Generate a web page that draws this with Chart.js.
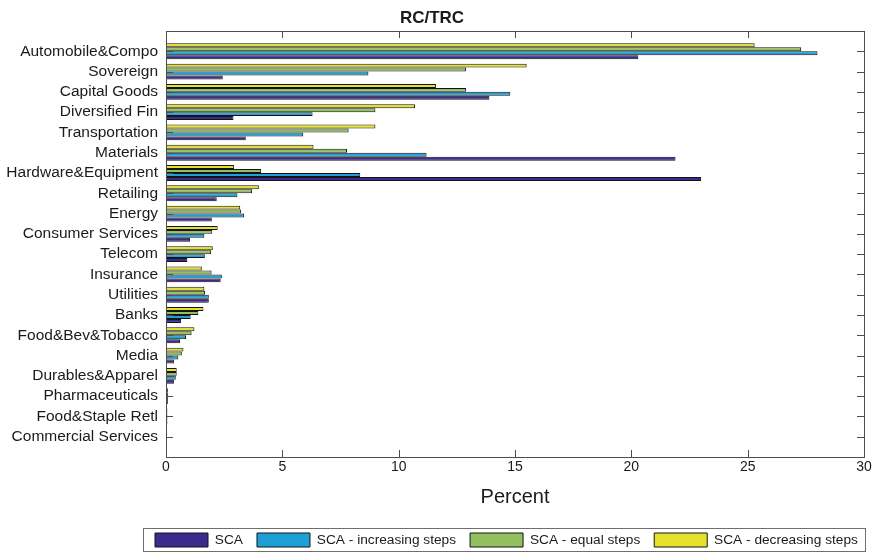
<!DOCTYPE html>
<html>
<head>
<meta charset="utf-8">
<script src="https://cdn.jsdelivr.net/npm/chart.js@4"></script>
<style>
  html, body { margin: 0; padding: 0; background: #ffffff; }
  #wrap { width: 880px; height: 552px; }
</style>
</head>
<body>
<div id="wrap"><canvas id="c" width="880" height="552"></canvas></div>
<script>
// Sectors, listed top to bottom
const categories = [
  'Automobile&Compo', 'Sovereign', 'Capital Goods', 'Diversified Fin', 'Transportation',
  'Materials', 'Hardware&Equipment', 'Retailing', 'Energy', 'Consumer Services',
  'Telecom', 'Insurance', 'Utilities', 'Banks', 'Food&Bev&Tobacco',
  'Media', 'Durables&Apparel', 'Pharmaceuticals', 'Food&Staple Retl', 'Commercial Services'
];

// RC/TRC in percent for each allocation scheme
const sca           = [20.3, 2.44, 13.9, 2.9, 3.43, 21.9, 23.0, 2.18, 1.97, 1.03, 0.92, 2.35, 1.84, 0.65, 0.60, 0.34, 0.34, 0.08, 0.06, 0];
const scaIncreasing = [28.0, 8.7, 14.8, 6.3, 5.9, 11.2, 8.35, 3.07, 3.36, 1.65, 1.67, 2.40, 1.84, 1.06, 0.86, 0.53, 0.42, 0.08, 0.06, 0];
const scaEqual      = [27.3, 12.9, 12.9, 9.0, 7.85, 7.78, 4.09, 3.70, 3.23, 1.99, 1.94, 1.96, 1.68, 1.39, 1.10, 0.68, 0.46, 0.08, 0.06, 0];
const scaDecreasing = [25.3, 15.5, 11.6, 10.7, 9.0, 6.34, 2.93, 3.99, 3.19, 2.22, 2.01, 1.54, 1.65, 1.61, 1.22, 0.75, 0.46, 0.08, 0.06, 0];

const xTicks = [0, 5, 10, 15, 20, 25, 30];

const FONT = "'Liberation Sans', Arial, Helvetica, sans-serif";
const TEXT = '#1a1a1a';
const AXIS = '#4d4d4d';
const TICK_LEN = 7;

// Index positions 1..N on a linear axis running from 0 to N+1
const positions = categories.map((_, i) => i + 1);

function series(label, values, color) {
  return {
    label,
    data: values,
    backgroundColor: color,
    borderColor: '#141414',
    borderWidth: 1,
    borderSkipped: false,
    categoryPercentage: 0.78,
    barPercentage: 1.0
  };
}

// Box around the axes with inward tick marks, and a framed legend
const framePlugin = {
  id: 'frame',
  afterLayout(chart) {
    const lg = chart.legend;
    const pad = lg.options.labels.padding;
    lg.left = chart.chartArea.left - 11 - pad;
    lg.right = chart.width;
    lg.top += 5;
  },
  afterDatasetsDraw(chart) {
    const { ctx, chartArea: a, scales: { x, y } } = chart;
    ctx.save();
    ctx.strokeStyle = AXIS;
    ctx.lineWidth = 1;
    ctx.beginPath();
    x.ticks.forEach(t => {
      if (t.value === x.min || t.value === x.max) return;
      const px = Math.round(x.getPixelForValue(t.value)) + 0.5;
      ctx.moveTo(px, a.bottom); ctx.lineTo(px, a.bottom - TICK_LEN);
      ctx.moveTo(px, a.top); ctx.lineTo(px, a.top + TICK_LEN);
    });
    positions.forEach(v => {
      const py = Math.round(y.getPixelForValue(v)) + 0.5;
      ctx.moveTo(a.left, py); ctx.lineTo(a.left + TICK_LEN, py);
      ctx.moveTo(a.right, py); ctx.lineTo(a.right - TICK_LEN, py);
    });
    ctx.stroke();
    ctx.strokeRect(Math.round(a.left) + 0.5, Math.round(a.top) + 0.5,
                   Math.round(a.right - a.left), Math.round(a.bottom - a.top));
    ctx.restore();
  },
  afterDraw(chart) {
    const { ctx } = chart;
    const lg = chart.legend;
    const pad = lg.options.labels.padding;
    const x0 = lg.left + pad;
    const w = lg.lineWidths[0] - pad;
    const yTop = lg.top + pad;
    ctx.save();
    ctx.strokeStyle = '#6e6e6e';
    ctx.lineWidth = 1;
    ctx.strokeRect(Math.round(x0 - 12) + 0.5, Math.round(yTop - 5) + 0.5, Math.round(w + 19), 23);
    ctx.restore();
  }
};

new Chart(document.getElementById('c'), {
  type: 'bar',
  data: {
    labels: positions,
    datasets: [
      series('SCA - decreasing steps', scaDecreasing, '#e6e22c'),
      series('SCA - equal steps', scaEqual, '#93c05f'),
      series('SCA - increasing steps', scaIncreasing, '#1e9fd6'),
      series('SCA', sca, '#3a2b8c')
    ]
  },
  options: {
    indexAxis: 'y',
    responsive: false,
    animation: false,
    devicePixelRatio: 1,
    layout: { padding: { left: 0, right: 16, top: 0, bottom: 0 } },
    plugins: {
      title: {
        display: true,
        text: 'RC/TRC',
        color: TEXT,
        font: { family: FONT, size: 17, weight: 'bold' },
        padding: { top: 8, bottom: 2.6 }
      },
      legend: {
        position: 'bottom',
        align: 'start',
        reverse: true,
        labels: {
          boxWidth: 53,
          boxHeight: 14,
          padding: 14,
          color: TEXT,
          font: { family: FONT, size: 13.7 }
        }
      },
      tooltip: { enabled: false }
    },
    scales: {
      x: {
        type: 'linear',
        position: 'bottom',
        min: 0,
        max: 30,
        afterBuildTicks(scale) { scale.ticks = xTicks.map(v => ({ value: v })); },
        grid: { display: false, drawTicks: false },
        border: { display: false },
        ticks: {
          color: TEXT,
          padding: 1.5,
          font: { family: FONT, size: 14 }
        },
        title: {
          display: true,
          text: 'Percent',
          color: TEXT,
          font: { family: FONT, size: 20 },
          padding: { top: 4, bottom: 5 }
        },
        afterFit(scale) { scale.height = 57; }
      },
      y: {
        type: 'linear',
        reverse: true,
        offset: false,
        min: 0,
        max: categories.length + 1,
        afterBuildTicks(scale) { scale.ticks = positions.map(v => ({ value: v })); },
        grid: { display: false, drawTicks: false },
        border: { display: false },
        ticks: {
          autoSkip: false,
          color: TEXT,
          padding: 8,
          font: { family: FONT, size: 15.5 },
          callback: (v) => categories[v - 1] ?? ''
        },
        afterFit(scale) { scale.width = 166; }
      }
    }
  },
  plugins: [framePlugin]
});
</script>
</body>
</html>
